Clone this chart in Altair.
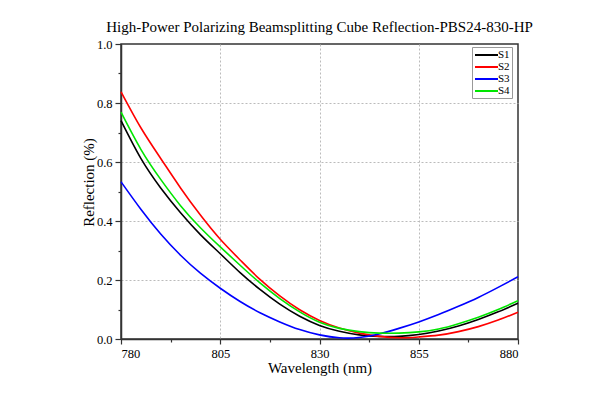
import altair as alt
import pandas as pd

wavelength = [780, 785, 790, 795, 800, 805, 810, 815, 820, 825, 830,
              835, 840, 845, 850, 855, 860, 865, 870, 875, 880]
s1 = [0.740, 0.612, 0.512, 0.428, 0.354, 0.289, 0.225, 0.168, 0.118, 0.077, 0.046,
      0.026, 0.014, 0.009, 0.009, 0.015, 0.027, 0.044, 0.066, 0.092, 0.121]
s2 = [0.838, 0.716, 0.612, 0.512, 0.420, 0.338, 0.268, 0.202, 0.146, 0.099, 0.063,
      0.037, 0.020, 0.009, 0.004, 0.007, 0.013, 0.025, 0.042, 0.064, 0.091]
s3 = [0.533, 0.440, 0.356, 0.284, 0.223, 0.172, 0.127, 0.089, 0.058, 0.032, 0.014,
      0.004, 0.005, 0.017, 0.036, 0.058, 0.083, 0.111, 0.141, 0.175, 0.211]
s4 = [0.769, 0.643, 0.541, 0.452, 0.377, 0.312, 0.250, 0.190, 0.137, 0.092, 0.057,
      0.036, 0.025, 0.020, 0.020, 0.024, 0.034, 0.052, 0.074, 0.100, 0.130]

series_names = ["S1", "S2", "S3", "S4"]
series_colors = ["#000000", "#ff0000", "#0000ff", "#00e600"]
x_ticks = [780, 792.5, 805, 817.5, 830, 842.5, 855, 867.5, 880]
y_ticks = [0.0, 0.1, 0.2, 0.3, 0.4, 0.5, 0.6, 0.7, 0.8, 0.9, 1.0]

rows = []
for name, vals in zip(series_names, [s1, s2, s3, s4]):
    for w, v in zip(wavelength, vals):
        rows.append({"wavelength": w, "reflection": v, "series": name})
df = pd.DataFrame(rows)

FONT = "Liberation Serif"
x_major = "datum.value % 25 == 5"
x_inner = "datum.value > 780 && datum.value < 880 && datum.value % 25 == 5"
y_major = "round(datum.value * 10) % 2 == 0"
y_inner = "datum.value > 0.05 && datum.value < 0.95 && round(datum.value * 10) % 2 == 0"

x_axis = alt.Axis(
    values=x_ticks,
    title="Wavelength (nm)",
    labelExpr="(" + x_major + ") ? format(datum.value, 'd') : ''",
    labelFont=FONT,
    labelFontSize=12.5,
    tickSize={"condition": {"test": x_major, "value": 5}, "value": 3},
    gridOpacity={"condition": {"test": x_inner, "value": 1}, "value": 0},
    labelPadding=3,
    titleFont=FONT,
    titleY=33,
    titleBaseline="alphabetic",
)
y_axis = alt.Axis(
    values=y_ticks,
    title="Reflection (%)",
    format=".1f",
    labelExpr="(" + y_major + ") ? datum.label : ''",
    labelFont=FONT,
    labelFontSize=12.5,
    tickSize={"condition": {"test": y_major, "value": 6}, "value": 3},
    gridOpacity={"condition": {"test": y_inner, "value": 1}, "value": 0},
    labelPadding=3,
    titleFont=FONT,
    titleX=-28,
    titleY=138,
    titleAlign="center",
    titleBaseline="alphabetic",
)

chart = (
    alt.Chart(df)
    .mark_line(strokeWidth=1.6, interpolate="natural")
    .encode(
        x=alt.X("wavelength:Q", scale=alt.Scale(domain=[780, 880], nice=False, zero=False), axis=x_axis),
        y=alt.Y("reflection:Q", scale=alt.Scale(domain=[0, 1], nice=False), axis=y_axis),
        color=alt.Color(
            "series:N",
            scale=alt.Scale(domain=series_names, range=series_colors),
            legend=alt.Legend(
                title=None,
                orient="none",
                legendX=351,
                legendY=3,
                symbolType="M-1,0H3.6",
                symbolSize=100,
                symbolStrokeWidth=2,
                labelOffset=12,
                labelFont=FONT,
                labelFontSize=11,
                labelColor="#000000",
                padding=2,
                rowPadding=1,
                strokeColor="#999999",
                fillColor="#ffffff",
            ),
        ),
    )
    .properties(
        width=397,
        height=295,
        title=alt.TitleParams(
            "High-Power Polarizing Beamsplitting Cube Reflection-PBS24-830-HP",
            font=FONT,
            fontSize=15,
            fontWeight="normal",
            color="#000000",
            anchor="middle",
            frame="group",
            baseline="bottom",
            offset=10,
            dy=22,
        ),
        autosize=alt.AutoSizeParams(type="none"),
        padding={"left": 113, "top": 36, "right": 70, "bottom": 45},
    )
    .configure_view(stroke="#333333", strokeWidth=1.5)
    .configure_axis(
        labelColor="#000000",
        titleFontSize=15,
        titleFontWeight="normal",
        titleColor="#000000",
        domainColor="#333333",
        domainWidth=1.5,
        tickColor="#333333",
        tickWidth=1.2,
        gridColor="#bbbbbb",
        gridDash=[2, 2],
        gridWidth=1,
    )
)

chart.save("out.html", embed_options={"renderer": "svg", "actions": False})
